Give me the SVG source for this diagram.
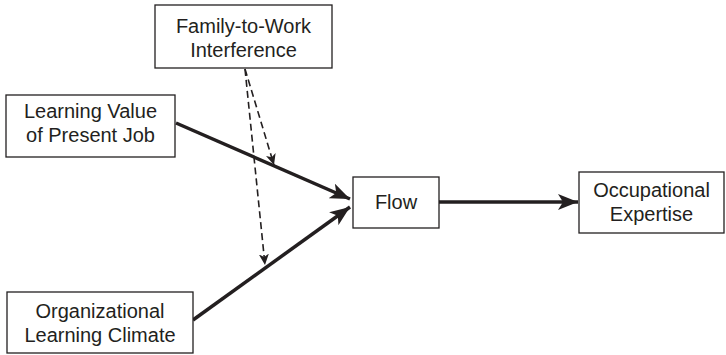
<svg xmlns="http://www.w3.org/2000/svg" width="726" height="355" viewBox="0 0 726 355">
<style>
.box{fill:#fff;stroke:#231f20;stroke-width:1.3}
.t{font-family:"Liberation Sans",Arial,sans-serif;font-size:20px;fill:#231f20;text-anchor:middle}
.solid{stroke:#231f20;stroke-width:3.5;fill:none}
.dash{stroke:#231f20;stroke-width:1.6;stroke-dasharray:7 4;fill:none}
</style>
<defs>
<marker id="big" markerUnits="userSpaceOnUse" markerWidth="22" markerHeight="16" refX="20" refY="8" orient="auto">
<path d="M0,0 L20,8 L0,16 L5,8 Z" fill="#231f20"/>
</marker>
<marker id="small" markerUnits="userSpaceOnUse" markerWidth="12" markerHeight="10" refX="11" refY="5" orient="auto">
<path d="M0,0 L11,5 L0,10 L3,5 Z" fill="#231f20"/>
</marker>
</defs>
<g id="connectors">
<line class="solid" x1="176" y1="123" x2="350" y2="199" marker-end="url(#big)"/>
<line class="solid" x1="193" y1="320" x2="350" y2="207" marker-end="url(#big)"/>
<line class="solid" x1="439" y1="202" x2="578" y2="202" marker-end="url(#big)"/>
<line class="dash" x1="245" y1="69" x2="274" y2="165" marker-end="url(#small)"/>
<line class="dash" x1="245" y1="69" x2="265" y2="265" marker-end="url(#small)"/>
</g>
<g id="family">
<rect class="box" x="155" y="5" width="177" height="63"/>
<text class="t" x="243.5" y="33">Family-to-Work</text>
<text class="t" x="243.5" y="57">Interference</text>
</g>
<g id="learning-value">
<rect class="box" x="6" y="95" width="169" height="62"/>
<text class="t" x="90.5" y="118">Learning Value</text>
<text class="t" x="90.5" y="142">of Present Job</text>
</g>
<g id="org-climate">
<rect class="box" x="7" y="292" width="186" height="61"/>
<text class="t" x="100" y="318">Organizational</text>
<text class="t" x="100" y="342">Learning Climate</text>
</g>
<g id="flow">
<rect class="box" x="353" y="177" width="86" height="51"/>
<text class="t" x="396" y="209">Flow</text>
</g>
<g id="expertise">
<rect class="box" x="579" y="172" width="145" height="61"/>
<text class="t" x="651.5" y="197">Occupational</text>
<text class="t" x="651.5" y="221">Expertise</text>
</g>
</svg>
